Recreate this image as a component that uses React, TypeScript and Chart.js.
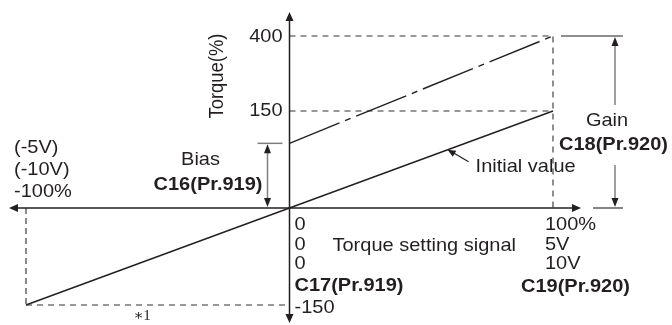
import React, { useEffect, useRef } from 'react';
import { Chart, registerables, LinearScale } from 'chart.js';

// ---- data ----
const signalPct = [-100, 0, 100];          // torque setting signal (%)
const initialTorque = [-150, 0, 150];      // initial-value characteristic (%)
const adjustedSignal = [0, 100];           // signal for adjusted characteristic
const adjustedTorque = [100, 400];         // bias 100% -> gain 400%
const yTickValues = [400, 150, -150];
const leftSignalLabels = ['(-5V)', '(-10V)', '-100%'];
const rightSignalLabels = ['100%', '5V', '10V'];
const zeroLabels = ['0', '0', '0'];
const BIAS_VALUE = 100;
const GAIN_VALUE = 400;
const MAX_SIGNAL = 100;
const MIN_SIGNAL = -100;
const MIN_TORQUE = -150;

// A linear scale with a compressed upper segment (schematic, not to scale)
class BrokenLinearScale extends LinearScale {
  static id = 'brokenLinear';
  static defaults = {};
  getPixelForValue(value: number) {
    const o: any = this.options;
    const b = o.breakValue ?? 150;
    const f = o.breakFraction ?? 0.72;
    const min = (this as any).min, max = (this as any).max;
    let d: number;
    if (value <= b) d = ((value - min) / (b - min)) * f;
    else d = f + ((value - b) / (max - b)) * (1 - f);
    return this.getPixelForDecimal(d);
  }
  getValueForPixel(pixel: number) {
    const o: any = this.options;
    const b = o.breakValue ?? 150;
    const f = o.breakFraction ?? 0.72;
    const min = (this as any).min, max = (this as any).max;
    const d = this.getDecimalForPixel(pixel);
    if (d <= f) return min + (d / f) * (b - min);
    return b + ((d - f) / (1 - f)) * (max - b);
  }
}

Chart.register(...registerables, BrokenLinearScale);

const INK = '#231f20';
const GRAY = '#7f7f7f';
const SANS = '"Liberation Sans", Arial, Helvetica, sans-serif';

function text(ctx: CanvasRenderingContext2D, s: string, x: number, y: number, opts: any = {}) {
  const { size = 20, bold = false, align = 'left', rot = 0, family = SANS, color = INK, sy = 0.92 } = opts;
  ctx.save();
  ctx.translate(x, y);
  ctx.scale(1, sy);
  ctx.rotate(rot);
  ctx.font = `${bold ? 'bold ' : ''}${size}px ${family}`;
  ctx.fillStyle = color;
  ctx.textAlign = align;
  ctx.textBaseline = 'middle';
  ctx.fillText(s, 0, 0);
  ctx.restore();
}

function head(ctx: CanvasRenderingContext2D, tx: number, ty: number, ang: number, len = 9, half = 4, color = INK) {
  ctx.save();
  ctx.translate(tx, ty);
  ctx.rotate(ang);
  ctx.fillStyle = color;
  ctx.beginPath();
  ctx.moveTo(0, 0);
  ctx.lineTo(-len, -half);
  ctx.lineTo(-len, half);
  ctx.closePath();
  ctx.fill();
  ctx.restore();
}

function seg(ctx: CanvasRenderingContext2D, x1: number, y1: number, x2: number, y2: number, color = INK, w = 1.3, dash: number[] = []) {
  ctx.save();
  ctx.strokeStyle = color;
  ctx.lineWidth = w;
  ctx.setLineDash(dash);
  ctx.beginPath();
  ctx.moveTo(x1, y1);
  ctx.lineTo(x2, y2);
  ctx.stroke();
  ctx.restore();
}

const diagramPlugin = {
  id: 'diagram',
  afterDatasetsDraw(chart: any) {
    const ctx: CanvasRenderingContext2D = chart.ctx;
    const xs = chart.scales.x, ys = chart.scales.y;
    const X = (v: number) => xs.getPixelForValue(v);
    const Y = (v: number) => ys.getPixelForValue(v);
    const x0 = X(0), y0 = Y(0);
    const xMax = X(MAX_SIGNAL), xMin = X(MIN_SIGNAL);
    const yGain = Y(GAIN_VALUE), yBias = Y(BIAS_VALUE), yMin = Y(MIN_TORQUE);
    const U = Math.PI / 2;

    // axes with arrows
    seg(ctx, xMin - 10, y0, xMax + 20, y0, INK, 1.5);
    head(ctx, xMin - 17, y0, Math.PI);
    head(ctx, xMax + 28, y0, 0);
    seg(ctx, x0, yGain - 16, x0, yMin + 10, INK, 1.5);
    head(ctx, x0, yGain - 24, -U);
    head(ctx, x0, yMin + 18, U);

    // y tick labels
    text(ctx, String(yTickValues[0]), x0 - 7, Y(yTickValues[0]) + 0.5, { align: 'right' });
    text(ctx, String(yTickValues[1]), x0 - 7, Y(yTickValues[1]), { align: 'right' });
    text(ctx, String(yTickValues[2]), x0 + 5, Y(yTickValues[2]) + 3);
    text(ctx, 'Torque(%)', x0 - 72, 76, { rot: -U, align: 'center' });

    // origin labels
    zeroLabels.forEach((s, i) => text(ctx, s, x0 + 5, y0 + 17 + i * 19.5));
    text(ctx, 'Torque setting signal', x0 + 43, y0 + 38);
    text(ctx, 'C17(Pr.919)', x0 + 5, y0 + 78, { bold: true });

    // right signal labels
    rightSignalLabels.forEach((s, i) => text(ctx, s, xMax - 8, y0 + 17 + i * 19.5));
    text(ctx, 'C19(Pr.920)', xMax - 32, y0 + 79, { bold: true });

    // left signal labels
    leftSignalLabels.forEach((s, i) => text(ctx, s, xMin - 12, y0 - 60 + i * 22));

    // Bias dimension
    const bx = x0 - 22;
    seg(ctx, bx - 10, yBias, bx + 15, yBias, GRAY, 1.5);
    seg(ctx, bx, yBias + 6, bx, y0 - 6, GRAY, 1.5);
    head(ctx, bx, yBias + 1, -U, 9, 3.5);
    head(ctx, bx, y0 - 1, U, 9, 3.5);
    text(ctx, 'Bias', bx - 67, y0 - 48, { align: 'center' });
    text(ctx, 'C16(Pr.919)', bx - 5, y0 - 23, { bold: true, align: 'right' });

    // Gain dimension
    const gx = xMax + 62;
    seg(ctx, xMax + 8, yGain, gx + 8, yGain, INK, 1.1);
    seg(ctx, xMax + 40, y0, gx + 8, y0, INK, 1.1);
    seg(ctx, gx, yGain + 6, gx, 105, GRAY, 1.5);
    seg(ctx, gx, 165, gx, y0 - 6, GRAY, 1.5);
    head(ctx, gx, yGain + 1, -U, 9, 3.5);
    head(ctx, gx, y0 - 1, U, 9, 3.5);
    text(ctx, 'Gain', gx - 8, 121, { align: 'center' });
    text(ctx, 'C18(Pr.920)', xMax + 6, 145, { bold: true });

    // Initial value pointer
    const tx = X(60), ty = Y(90);
    seg(ctx, tx + 21, ty + 12, tx + 4, ty + 2, INK, 1.2);
    head(ctx, tx, ty, Math.atan2(ty - (ty + 12), tx - (tx + 21)), 8, 3.5);
    text(ctx, 'Initial value', tx + 28, ty + 17);

    // footnote
    text(ctx, '∗1', 142, yMin + 11, { size: 15, family: '"Liberation Serif", "DejaVu Serif", serif', align: 'center', sy: 1 });
  },
};

export default function App() {
  const ref = useRef<HTMLCanvasElement | null>(null);
  useEffect(() => {
    if (!ref.current) return;
    const pts = (xsArr: number[], ysArr: number[]) => xsArr.map((x, i) => ({ x, y: ysArr[i] }));
    const chart = new Chart(ref.current, {
      type: 'line',
      data: {
        datasets: [
          {
            data: pts(signalPct, initialTorque),
            borderColor: INK, borderWidth: 1.4, pointRadius: 0, clip: false,
          },
          {
            data: pts(adjustedSignal, adjustedTorque),
            borderColor: INK, borderWidth: 1.4, pointRadius: 0, clip: false,
            borderDash: [54, 6, 6, 6],
          },
          {
            data: [{ x: 0, y: GAIN_VALUE }, { x: MAX_SIGNAL, y: GAIN_VALUE }, { x: MAX_SIGNAL, y: 0 }],
            borderColor: '#333', borderWidth: 1.1, pointRadius: 0, clip: false,
            borderDash: [6, 5],
          },
          {
            data: [{ x: 0, y: initialTorque[2] }, { x: MAX_SIGNAL, y: initialTorque[2] }],
            borderColor: '#333', borderWidth: 1.1, pointRadius: 0, clip: false,
            borderDash: [6, 5],
          },
          {
            data: [{ x: MIN_SIGNAL, y: 0 }, { x: MIN_SIGNAL, y: MIN_TORQUE }],
            borderColor: '#8a8a8a', borderWidth: 2, pointRadius: 0, clip: false,
            borderDash: [6, 4],
          },
          {
            data: [{ x: MIN_SIGNAL, y: MIN_TORQUE }, { x: 0, y: MIN_TORQUE }],
            borderColor: '#333', borderWidth: 1.1, pointRadius: 0, clip: false,
            borderDash: [6, 5],
          },
        ],
      },
      options: {
        responsive: false,
        animation: false,
        devicePixelRatio: 1,
        events: [],
        layout: { padding: { left: 26, right: 119, top: 36, bottom: 20 } },
        plugins: { legend: { display: false }, tooltip: { enabled: false }, title: { display: false } },
        elements: { line: { tension: 0, fill: false } },
        scales: {
          x: { type: 'linear', min: MIN_SIGNAL, max: MAX_SIGNAL, display: false },
          y: { type: 'brokenLinear', min: MIN_TORQUE, max: GAIN_VALUE, display: false, breakValue: 150, breakFraction: 0.7212 } as any,
        },
      },
      plugins: [diagramPlugin],
    } as any);
    return () => chart.destroy();
  }, []);
  return (
    <div style={{ position: 'fixed', left: 0, top: 0, width: 672, height: 325, background: '#fff' }}>
      <canvas ref={ref} width={672} height={325} style={{ display: 'block' }} />
    </div>
  );
}
